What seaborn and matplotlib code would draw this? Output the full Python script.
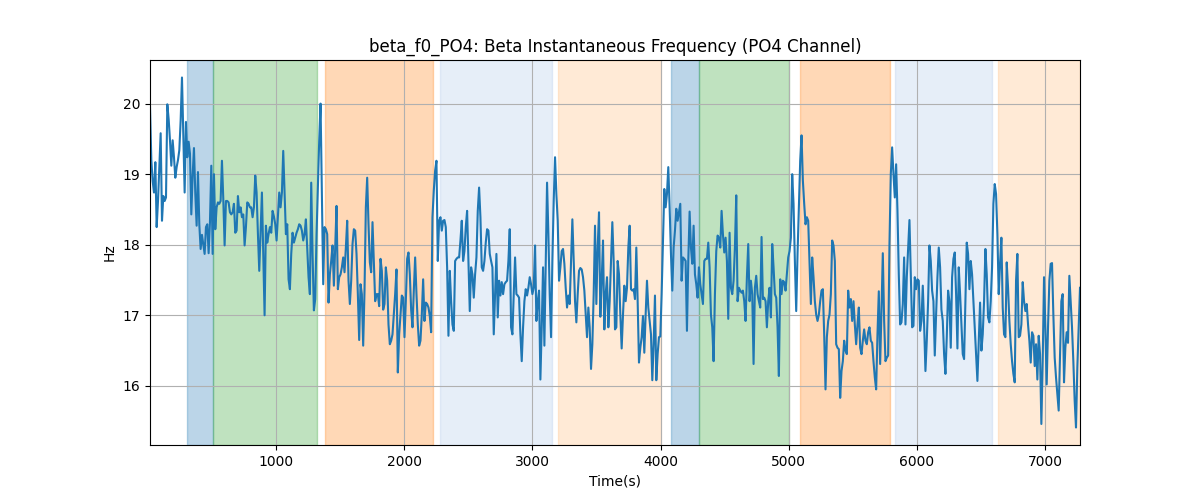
import numpy as np
import pandas as pd
import matplotlib
matplotlib.use("Agg")
import matplotlib.pyplot as plt
import seaborn as sns

# time range of the recording (s)
t_start = 17
t_end = 7272

seg1 = [19.95, 19.2, 18.9, 18.74, 19.17, 18.25, 18.62, 19.1, 19.58, 18.34, 18.69, 18.62, 18.67, 19.99, 19.78,
        19.48, 19.12, 19.48, 19.24, 18.95, 19.1, 19.2, 19.34, 19.76, 20.37, 19.52, 18.74, 19.74, 19.24, 19.46,
        19.29, 18.43, 18.98, 19.37, 18.72, 18.27, 19.03, 18.29, 17.94, 18.14, 18.01, 17.87, 18.25, 18.29,
        17.88, 18.32, 19.12, 17.87, 19.0, 18.22, 18.53, 18.6, 18.58, 18.62, 19.19, 18.65, 17.99, 18.62,
        18.62, 18.6, 18.46, 18.43, 18.46, 18.58, 18.17, 18.2, 18.69, 18.46, 18.53, 18.39, 18.43, 17.99,
        18.25, 18.6, 18.58, 18.53, 18.53, 18.39, 18.53, 18.98, 18.74, 18.15, 17.63, 18.2, 18.74, 17.87, 17.0]
seg2 = [18.27, 18.03, 18.15, 18.25, 18.17, 18.48, 18.4, 18.29, 18.06, 18.39, 18.74, 18.53, 18.74, 19.33,
        18.74, 18.15, 18.29, 17.51, 17.37, 17.87, 18.17, 18.03, 18.1, 18.17, 18.22, 18.29, 18.27, 18.2,
        18.06, 18.15, 18.36, 17.96, 17.54, 17.3, 18.88, 17.87, 17.07, 17.23, 18.15, 18.81, 19.48, 20.0,
        18.72, 17.44, 18.25, 18.22, 18.15, 17.18, 17.58, 17.77, 17.99, 17.42, 17.96, 18.55, 17.37, 17.54,
        17.58, 17.68, 17.82, 17.61, 17.96, 18.34, 17.49, 17.16, 17.49, 18.01, 18.22, 18.2, 17.87, 17.3,
        16.65, 17.44, 17.3, 16.57, 17.35, 18.53, 18.95, 18.29, 17.75, 17.61, 18.32, 17.77, 17.2, 17.3,
        17.3, 17.13, 17.8]
seg3 = [17.63, 17.08, 17.16, 17.68, 17.49, 16.87, 16.59, 16.64, 16.73, 17.01, 17.3, 17.65, 16.19, 16.73,
        17.01, 17.28, 17.25, 16.69, 17.2, 17.8, 17.89, 17.58, 17.08, 16.83, 17.35, 17.82, 17.3, 16.87,
        16.57, 16.64, 17.01, 17.51, 16.92, 17.18, 17.16, 17.11, 16.99, 16.76, 18.39, 18.77, 19.05, 19.19,
        17.77, 18.34, 18.39, 18.2, 18.34, 18.35, 18.25, 17.68, 16.71, 17.63, 17.2, 16.87, 16.78, 17.77,
        17.8, 17.82, 17.82, 18.06, 18.34, 17.77, 17.91, 18.25, 18.48, 17.77, 17.06, 17.68, 17.58, 17.25,
        17.58, 17.82, 18.48, 18.81, 18.39, 17.68, 17.63, 17.77, 18.03, 18.22, 18.2, 17.87, 17.77, 17.68,
        16.73, 17.3, 17.87, 16.97]
seg4 = [17.49, 17.28, 17.47, 17.3, 17.44, 17.47, 17.49, 17.77, 18.22, 16.83, 16.73, 17.3, 17.82, 17.3,
        17.28, 17.25, 16.73, 16.35, 16.83, 17.2, 17.37, 17.28, 17.39, 17.54, 17.44, 17.3, 17.39, 17.99,
        16.92, 17.2, 17.35, 16.09, 16.83, 17.68, 16.57, 17.77, 18.88, 18.15, 17.3, 16.69, 17.77, 18.62,
        19.24, 18.72, 18.34, 17.49, 17.68, 17.91, 17.94, 17.73, 17.39, 17.11, 17.28, 17.16, 17.77, 18.36,
        17.77, 17.2, 16.9, 17.3, 17.63, 17.67, 17.65, 17.54, 17.35, 17.01, 16.69, 17.11, 16.83, 16.24,
        16.59, 17.3, 18.27, 17.16, 17.96, 18.46, 16.98, 17.49, 18.06, 16.8, 17.3, 17.54, 16.83, 17.2,
        17.77, 18.32, 17.77, 16.8]
seg5 = [16.83, 17.77, 17.58, 17.01, 16.53, 17.01, 17.42, 17.2, 17.39, 17.96, 18.27, 17.37, 17.35, 17.37,
        17.23, 17.96, 17.2, 16.33, 16.54, 16.69, 16.99, 16.47, 17.01, 17.49, 17.11, 16.92, 16.73, 16.08,
        16.59, 17.28, 16.08, 16.45, 16.69, 16.7, 17.3, 18.06, 18.79, 18.53, 18.72, 19.1, 18.53, 17.87,
        17.35, 17.96, 18.2, 18.51, 18.34, 18.46, 18.58, 17.49, 17.82, 17.8, 17.77, 16.78, 17.77, 18.47,
        17.96, 17.73, 18.27, 17.58, 17.44, 17.25, 17.68, 17.44, 17.3, 17.16, 17.77, 17.8, 17.8, 18.03,
        17.68, 17.01, 16.83, 16.35, 17.3, 17.91, 18.13, 18.1, 17.96, 18.48, 18.15, 17.89, 18.1, 17.77,
        16.95, 18.17, 17.39]
seg6 = [17.3, 17.49, 17.96, 18.7, 17.2, 17.39, 17.35, 17.32, 17.35, 17.2, 16.92, 17.54, 18.01, 17.2,
        17.49, 17.3, 16.31, 17.39, 17.56, 17.3, 17.2, 17.11, 18.11, 17.23, 17.25, 17.2, 16.83, 17.2,
        17.39, 16.97, 18.01, 17.68, 17.3, 17.25, 16.83, 16.14, 17.51, 17.3, 17.49, 17.47, 17.35, 17.58,
        17.82, 17.91, 18.1, 19.0, 18.58, 17.77, 17.06, 17.87, 18.53, 19.19, 19.55, 18.91, 18.58, 18.29,
        18.39, 18.34, 17.73, 17.16, 17.82, 17.54, 17.2, 17.01, 16.92, 17.01, 17.2, 17.35, 17.37, 16.73,
        15.95, 16.69, 16.92, 17.01, 17.3, 18.06, 17.99, 17.77, 16.59, 16.54, 16.52, 15.83, 16.21, 16.35,
        16.64, 16.5, 16.45, 17.35]
seg7 = [17.11, 17.23, 16.92, 17.2, 16.87, 16.59, 16.87, 17.11, 16.54, 16.45, 16.64, 16.8, 16.64,
        16.59, 16.76, 16.83, 16.64, 16.61, 16.35, 16.12, 15.95, 16.73, 17.34, 16.31, 17.06, 17.88,
        16.92, 16.35, 16.4, 16.43, 18.01, 19.0, 19.38, 19.0, 18.67, 19.14, 18.48, 17.58, 16.87, 16.9,
        17.16, 17.82, 16.87, 17.54, 17.96, 18.35, 17.58, 16.83, 16.85, 17.54, 17.37, 17.51, 17.49, 16.78,
        16.92, 17.42, 16.87, 16.21, 16.64, 17.2, 17.99, 17.77, 17.35, 17.2, 16.43, 17.01, 17.54, 17.96,
        17.68, 17.08, 16.92, 16.45, 16.17, 16.69, 17.35, 17.2, 16.54, 17.54, 17.8, 17.89, 17.3, 16.53,
        17.68, 17.3, 16.87, 16.45]
seg8 = [16.38, 17.2, 18.03, 17.87, 17.37, 17.77, 17.58, 17.2, 16.83, 16.45, 16.07, 16.64, 17.18,
        16.5, 16.73, 17.2, 17.94, 17.58, 16.97, 16.9, 17.2, 17.68, 18.58, 18.86, 18.72, 18.15, 17.3,
        17.73, 18.1, 17.11, 16.73, 16.69, 17.75, 17.39, 16.92, 16.59, 16.35, 16.17, 16.05, 17.49, 17.87,
        16.69, 16.71, 16.87, 17.47, 17.2, 17.06, 17.16, 16.87, 16.64, 16.33, 16.76, 16.71, 16.28,
        16.59, 16.09, 16.71, 16.45, 15.46, 16.35, 17.54, 16.83, 16.02, 16.83, 17.49, 17.73, 17.74,
        17.01, 16.4, 16.12, 15.88, 15.65, 16.4, 17.2, 17.3, 16.05, 16.54, 16.76, 16.61, 17.56, 17.2,
        16.83, 16.35, 15.79, 15.41, 16.26, 16.83, 17.39]

# task phases shown as shaded bands (s)
span_starts = [309, 511, 1383, 2280, 3201, 4082, 4298, 5089, 5830, 6634]
span_ends = [511, 1318, 2223, 3151, 4002, 4298, 5005, 5788, 6587, 7272]
span_phase = ["a", "b", "c", "d", "e", "a", "b", "c", "d", "e"]

phase_colors = {"a": "#1f77b4", "b": "#2ca02c", "c": "#ff7f0e", "d": "#aec7e8", "e": "#ffbb78"}

hz = seg1 + seg2 + seg3 + seg4 + seg5 + seg6 + seg7 + seg8
df = pd.DataFrame({"time": np.linspace(t_start, t_end, len(hz)), "hz": hz})

fig, ax = plt.subplots(figsize=(12, 5), dpi=100)

for s, e, p in zip(span_starts, span_ends, span_phase):
    ax.axvspan(s, e, color=phase_colors[p], alpha=0.3)

sns.lineplot(data=df, x="time", y="hz", ax=ax, color="#1f77b4", linewidth=1.5)

ax.set_xlim(df["time"].min(), df["time"].max())
ax.grid(True)
ax.set_title("beta_f0_PO4: Beta Instantaneous Frequency (PO4 Channel)")
ax.set_xlabel("Time(s)")
ax.set_ylabel("Hz")

plt.savefig("out.png", dpi=100)
plt.close()
